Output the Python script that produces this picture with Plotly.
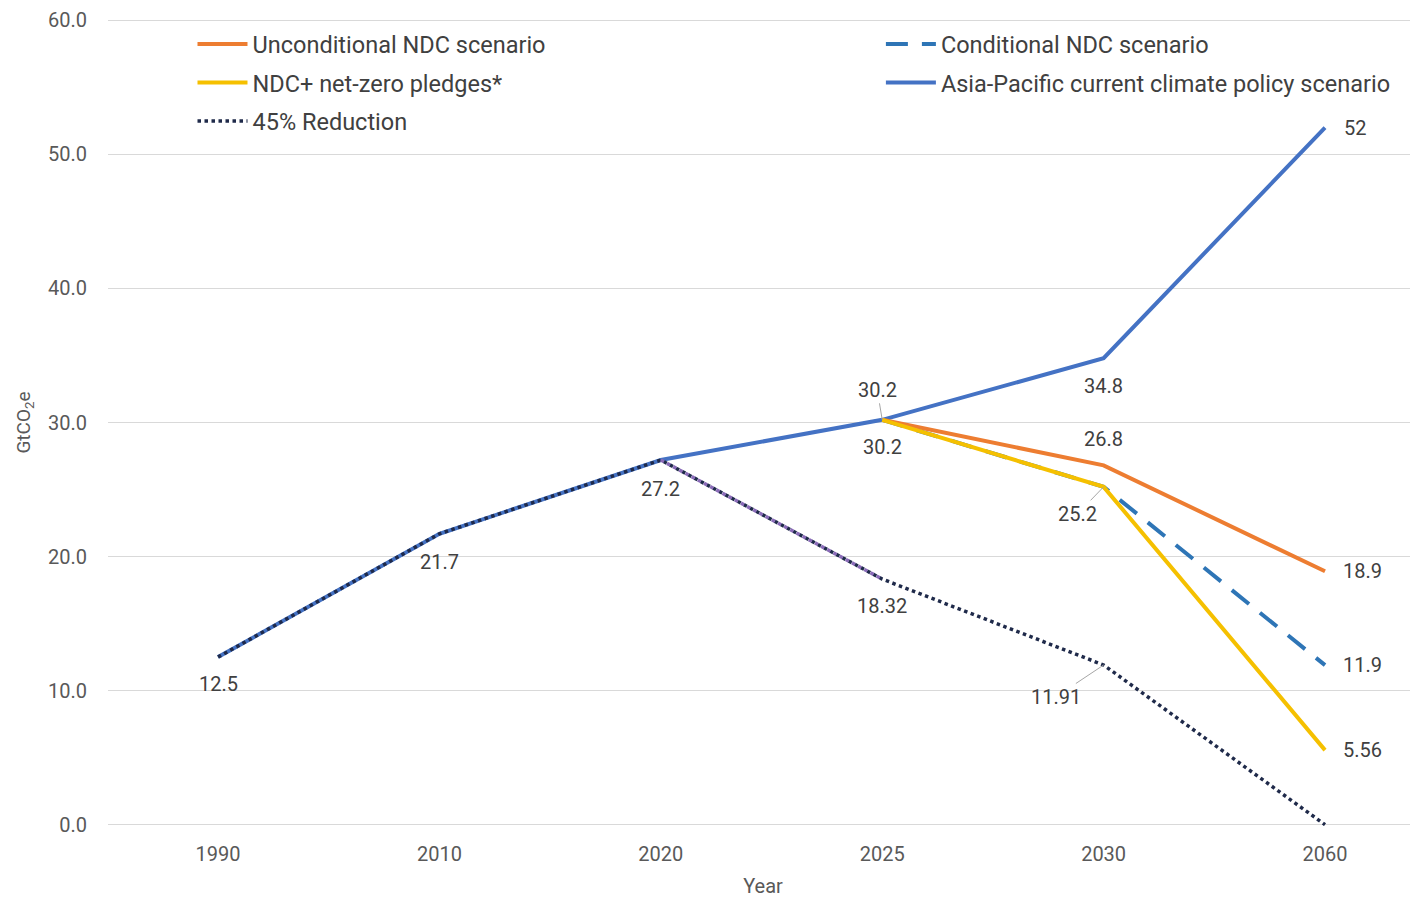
import plotly.graph_objects as go

years = ["1990", "2010", "2020", "2025", "2030", "2060"]
y_ticks = [0, 10, 20, 30, 40, 50, 60]

unconditional_years = ["2025", "2030", "2060"]
unconditional = [30.2, 26.8, 18.9]

conditional_years = ["2025", "2030", "2060"]
conditional = [30.2, 25.2, 11.9]

netzero_years = ["2025", "2030", "2060"]
netzero = [30.2, 25.2, 5.56]

current_policy = [12.5, 21.7, 27.2, 30.2, 34.8, 52]

reduction45 = [12.5, 21.7, 27.2, 18.32, 11.91, 0]

FONT = "Roboto"
TXT = "#404040"
AX = "#595959"

fig = go.Figure()

fig.add_trace(go.Scatter(
    x=years, y=current_policy, mode="lines", name="Asia-Pacific current climate policy scenario",
    line=dict(color="#4472C4", width=4), legend="legend2", legendgroup="g4", legendrank=2))
fig.add_trace(go.Scatter(
    x=years, y=reduction45, mode="lines", name="45% Reduction",
    line=dict(color="#1F2A4A", width=3.5, dash="dot"), legendgroup="g5", legendrank=3))
fig.add_trace(go.Scatter(
    x=years[2:4], y=reduction45[2:4], mode="lines", showlegend=False,
    line=dict(color="#8A6BB8", width=3.5, dash="dot")))
fig.add_trace(go.Scatter(
    x=conditional_years, y=conditional, mode="lines", name="Conditional NDC scenario",
    line=dict(color="#2E75B6", width=4, dash="22px,14px"), legend="legend2", legendgroup="g2", legendrank=1))
fig.add_trace(go.Scatter(
    x=unconditional_years, y=unconditional, mode="lines", name="Unconditional NDC scenario",
    line=dict(color="#ED7D31", width=4), legendgroup="g1", legendrank=1))
fig.add_trace(go.Scatter(
    x=netzero_years, y=netzero, mode="lines", name="NDC+ net-zero pledges*",
    line=dict(color="#F5C000", width=4), legendgroup="g3", legendrank=2))

def xi(cat):
    return years.index(cat)

ann = []
def lab(x, y, text, xs=0, ys=0, xanchor="center"):
    ann.append(dict(x=xi(x), y=y, xref="x", yref="y", text=text, showarrow=False,
                    xshift=xs, yshift=ys, xanchor=xanchor,
                    font=dict(family=FONT, size=20, color=TXT)))

def leader(x, y, text, ax, ay):
    ann.append(dict(x=xi(x), y=y, xref="x", yref="y", text=text, showarrow=True,
                    ax=ax, ay=ay, arrowhead=0, arrowwidth=1, arrowcolor="#A6A6A6",
                    font=dict(family=FONT, size=20, color=TXT)))

lab(years[0], current_policy[0], "12.5", ys=-27)
lab(years[1], current_policy[1], "21.7", ys=-28)
lab(years[2], current_policy[2], "27.2", ys=-29)
leader(years[3], current_policy[3], "30.2", ax=-5, ay=-30)
lab(years[3], unconditional[0], "30.2", ys=-27)
lab(years[4], current_policy[4], "34.8", ys=-28)
lab(years[4], unconditional[1], "26.8", ys=26)
leader(years[4], netzero[1], "25.2", ax=-26, ay=27)
lab(years[5], current_policy[5], "52", xs=17, xanchor="left")
lab(years[5], unconditional[2], "18.9", xs=16, xanchor="left")
lab(years[5], conditional[2], "11.9", xs=16, xanchor="left")
lab(years[5], netzero[2], "5.56", xs=16, xanchor="left")
lab(years[3], reduction45[3], "18.32", ys=-27)
leader(years[4], reduction45[4], "11.91", ax=-48, ay=32)

legend_common = dict(
    orientation="v", xanchor="left", yanchor="top", traceorder="grouped",
    font=dict(family=FONT, size=23.5, color=TXT), bgcolor="rgba(0,0,0,0)",
    itemwidth=50, tracegroupgap=5)

fig.update_layout(
    width=1410, height=891,
    margin=dict(l=100, r=0, t=9, b=73),
    paper_bgcolor="white", plot_bgcolor="white",
    font=dict(family=FONT, size=20, color=AX),
    annotations=ann,
    legend=dict(x=0.0645, y=0.996, **legend_common),
    legend2=dict(x=0.590, y=0.996, **legend_common),
    xaxis=dict(
        type="category", categoryorder="array", categoryarray=years,
        range=[-0.497, 5.42], showgrid=False, zeroline=False, showline=False,
        ticks="", tickfont=dict(family=FONT, size=20, color=AX),
        ticklabelstandoff=14,
        title=dict(text="Year", font=dict(family=FONT, size=20, color=AX), standoff=13)),
    yaxis=dict(
        range=[-0.1, 60.1], tickvals=y_ticks, tickformat=".1f",
        showgrid=True, gridcolor="#D9D9D9", gridwidth=1, zeroline=False,
        showline=False, ticks="", ticklabelstandoff=20, ticklabeloverflow="allow",
        tickfont=dict(family=FONT, size=20, color=AX),
        title=dict(text="GtCO<sub>2</sub>e", font=dict(family=FONT, size=19, color=AX), standoff=12)),
)

fig.write_html("out.html")
